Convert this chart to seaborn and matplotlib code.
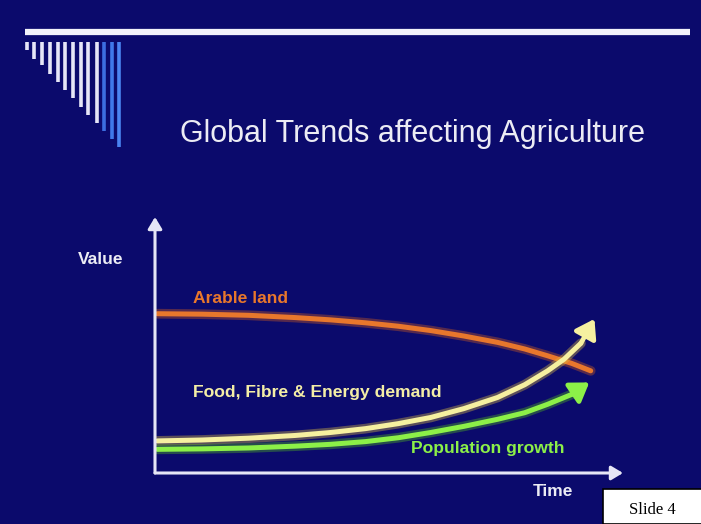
import matplotlib
matplotlib.use("Agg")
import matplotlib.pyplot as plt
import seaborn as sns
from matplotlib.patches import Rectangle

# curves (time 0..10, value scale 0..10)
arable_t = [0.05, 1, 2, 3, 3.75, 4.5, 5.2, 5.89, 6.6, 7.32, 7.9, 8.39, 8.9, 9.31]
arable_v = [7.0, 6.98, 6.93, 6.83, 6.73, 6.6, 6.45, 6.26, 6.02, 5.74, 5.45, 5.15, 4.82, 4.49]

food_t = [0.05, 1, 2, 3, 3.75, 4.5, 5.2, 5.89, 6.6, 7.32, 7.9, 8.39, 8.74, 9.1, 9.39]
food_v = [1.41, 1.45, 1.53, 1.65, 1.78, 1.95, 2.17, 2.44, 2.83, 3.32, 3.88, 4.49, 5.0, 5.7, 6.77]

pop_t = [0.05, 1, 2, 3, 3.75, 4.5, 5.2, 5.89, 6.6, 7.32, 7.9, 8.39, 8.9, 9.28]
pop_v = [1.04, 1.06, 1.1, 1.18, 1.26, 1.38, 1.55, 1.78, 2.05, 2.36, 2.65, 3.02, 3.45, 3.98]

# decorative comb in the top-left corner (pixel units)
comb_x = [26.7, 34.3, 42, 50, 57.7, 65.3, 73, 80.7, 88.3, 96.7, 104.3, 112, 119.3]
comb_bottom = [50, 59, 65, 74, 82, 90, 98, 107, 115, 123, 131, 139, 147]
comb_colors = ['#e6e6f8'] * 10 + ['#3c6ee0', '#3f78ea', '#4a84f2']

NAVY = '#0b0a6c'
AXIS = '#e6e6f6'
TXT = '#ececf4'

sns.set_style("white")
plt.rcParams['font.family'] = ['Liberation Sans', 'DejaVu Sans']

fig = plt.figure(figsize=(7.01, 5.24), dpi=100, facecolor=NAVY)

# background layer in pixel coordinates
bg = fig.add_axes([0, 0, 1, 1])
bg.set_xlim(0, 701)
bg.set_ylim(524, 0)
bg.set_facecolor(NAVY)
bg.axis('off')
bg.plot([25, 690], [32, 32], color='#f2f2fa', lw=4.5, solid_capstyle='butt')
bg.vlines(comb_x, 42, comb_bottom, colors=comb_colors, lw=2.6)
bg.text(413, 142, 'Global Trends affecting Agriculture', color=TXT,
        fontsize=22, ha='center', va='baseline')

# slide number box
fig.patches.append(Rectangle((603 / 701, 0), 0.2, 35 / 524, transform=fig.transFigure,
                             facecolor='white', edgecolor='black', lw=1.2, zorder=5))
fig.text(652 / 701, 14 / 524, 'Slide 4', family=['Liberation Serif', 'DejaVu Serif'],
         fontsize=12, ha='center', va='center', color='black', zorder=6)

# chart
ax = fig.add_axes([155 / 701, 1 - 473 / 524, 468 / 701, 256 / 524])
ax.set_facecolor('none')
ax.set_xlim(0, 10)
ax.set_ylim(0, 11.25)
for s in ax.spines.values():
    s.set_visible(False)
ax.set_xticks([])
ax.set_yticks([])

for tip in [(1, 0), (0, 1)]:
    ax.annotate('', xy=tip, xytext=(0, 0), xycoords='axes fraction',
                arrowprops=dict(arrowstyle='-|>,head_length=0.5,head_width=0.3',
                                color=AXIS, lw=2.2, mutation_scale=14,
                                shrinkA=0, shrinkB=0))

series = [
    (arable_t, arable_v, '#e8772c', '#c85a20', False),
    (food_t, food_v, '#f6f0a0', '#d8b840', True),
    (pop_t, pop_v, '#8cf048', '#50b020', True),
]
for t, v, col, glow, arrow in series:
    n = len(t) - 1 if arrow else len(t)
    sns.lineplot(x=t[:n], y=v[:n], ax=ax, color=glow, lw=7, alpha=0.4,
                 solid_capstyle='round')
    sns.lineplot(x=t[:n], y=v[:n], ax=ax, color=col, lw=3.6, solid_capstyle='round')
    if arrow:
        ax.annotate('', xy=(t[-1], v[-1]), xytext=(t[-2], v[-2]),
                    arrowprops=dict(arrowstyle='-|>,head_length=0.6,head_width=0.4',
                                    color=col, lw=3.4, mutation_scale=18,
                                    shrinkA=0, shrinkB=0))

ax.text(0.81, 7.65, 'Arable land', color='#e8772c', fontsize=12.6, fontweight='bold',
        va='center')
ax.text(0.81, 3.52, 'Food, Fibre & Energy demand', color='#f4eea6', fontsize=12.6,
        fontweight='bold', va='center')
ax.text(5.46, 1.06, 'Population growth', color='#8cf048', fontsize=12.6,
        fontweight='bold', va='center')
ax.text(-1.65, 9.38, 'Value', color=TXT, fontsize=12.5, fontweight='bold',
        va='center', clip_on=False)
ax.text(8.07, -0.8, 'Time', color=TXT, fontsize=12.5, fontweight='bold',
        va='center', clip_on=False)

fig.savefig('out.png', dpi=100, facecolor=NAVY)
